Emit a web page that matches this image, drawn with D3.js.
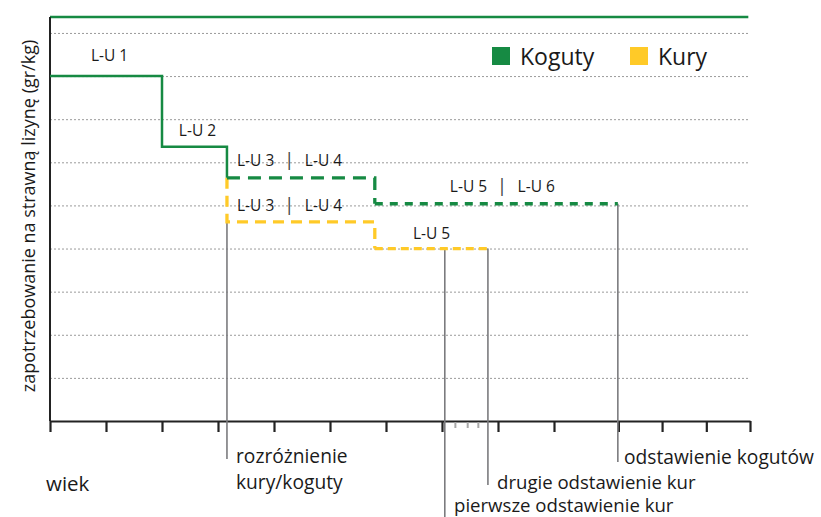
<!DOCTYPE html>
<html>
<head>
<meta charset="utf-8">
<script src="https://cdn.jsdelivr.net/npm/d3@7"></script>
<style>
  html, body { margin: 0; padding: 0; background: #fff; }
  svg { display: block; }
  text { font-family: "Open Sans", "Noto Sans", sans-serif; fill: #1a1a1a; }
</style>
</head>
<body>
<svg id="chart" width="821" height="517"></svg>
<script>
// ---- data ----
const yGridTicks = [1, 2, 3, 4, 5, 6, 7, 8, 9];
const xMajorTicks = [0, 1, 2, 3, 4, 5, 6, 7, 8, 9, 10.15, 10.93, 11.72, 12.5];
const xMinorTicks = [7.23, 7.45, 7.64];

// Koguty (green) step points [age, value]
const kogutySolid = [[0, 8], [2, 6.36], [3.16, 5.64]];
const kogutyDash1 = [[3.16, 5.64], [5.8, 5.64], [5.8, 5.04]];
const kogutyDash2 = [[5.8, 5.04], [10.14, 5.04]];
// Kury (yellow)
const kuryDash1 = [[3.16, 5.64], [3.16, 4.62], [5.8, 4.62], [5.8, 4.0]];
const kuryDash2 = [[5.8, 4.0], [7.82, 4.0]];

// Stage labels [text, age, value]
const stageLabels = [
  ["L-U 1", 0.73, 8.34],
  ["L-U 2", 2.3, 6.6],
  ["L-U 3", 3.34, 5.91],
  ["|", 4.27, 5.91],
  ["L-U 4", 4.55, 5.91],
  ["L-U 3", 3.34, 4.87],
  ["|", 4.27, 4.87],
  ["L-U 4", 4.55, 4.87],
  ["L-U 5", 7.14, 5.3],
  ["|", 8.07, 5.3],
  ["L-U 6", 8.35, 5.3],
  ["L-U 5", 6.48, 4.23]
];

// Event markers: age, value where line starts, label lines
const events = [
  { age: 3.16, value: 4.62, lines: ["rozróżnienie", "kury/koguty"] },
  { age: 7.05, value: 4.0, lines: ["pierwsze odstawienie kur"] },
  { age: 7.82, value: 4.0, lines: ["drugie odstawienie kur"] },
  { age: 10.14, value: 5.04, lines: ["odstawienie kogutów"] }
];

const legendItems = ["Koguty", "Kury"];
const colors = { Koguty: "#168a43", Kury: "#ffca28" };

// ---- layout ----
const svg = d3.select("#chart");
const x = d3.scaleLinear().domain([0, 12.5]).range([50, 750]);
const y = d3.scaleLinear().domain([0, 9.37]).range([421, 17]);

// grid
const grid = svg.append("g").attr("transform", "translate(50,0)")
  .call(d3.axisLeft(y).tickValues(yGridTicks).tickSize(-700).tickFormat(""));
grid.select(".domain").remove();
grid.selectAll(".tick line")
  .attr("stroke", "#9a9a9a").attr("stroke-width", 1).attr("stroke-dasharray", "2,2");

// top green line
svg.append("line")
  .attr("x1", x(0)).attr("x2", x(12.47)).attr("y1", y(9.37)).attr("y2", y(9.37))
  .attr("stroke", colors.Koguty).attr("stroke-width", 2.5);

// y axis line
svg.append("line")
  .attr("x1", x(0)).attr("x2", x(0)).attr("y1", y(9.37)).attr("y2", y(0))
  .attr("stroke", "#222").attr("stroke-width", 2);

// x axis
const xAxis = svg.append("g").attr("transform", `translate(0,${y(0)})`)
  .call(d3.axisBottom(x).tickValues(xMajorTicks).tickSize(11).tickSizeOuter(0).tickFormat(""));
xAxis.select(".domain").attr("stroke", "#222").attr("stroke-width", 2.2);
xAxis.selectAll(".tick line").attr("stroke", "#222").attr("stroke-width", 2.2);

const xMinor = svg.append("g").attr("transform", `translate(0,${y(0) + 1})`)
  .call(d3.axisBottom(x).tickValues(xMinorTicks).tickSize(6).tickSizeOuter(0).tickFormat(""));
xMinor.select(".domain").remove();
xMinor.selectAll(".tick line").attr("stroke", "#a8a8a8").attr("stroke-width", 2);

// event vertical lines
const eventBottoms = [459, 517, 485, 462];
events.forEach((e, i) => {
  svg.append("line")
    .attr("x1", x(e.age)).attr("x2", x(e.age))
    .attr("y1", y(e.value)).attr("y2", eventBottoms[i])
    .attr("stroke", "#7b7b7e").attr("stroke-width", 1.6);
});

// step lines
const line = d3.line().x(d => x(d[0])).y(d => y(d[1]));
const stepLine = d3.line().x(d => x(d[0])).y(d => y(d[1])).curve(d3.curveStepAfter);

svg.append("path").attr("d", line(kuryDash1)).attr("fill", "none")
  .attr("stroke", colors.Kury).attr("stroke-width", 3.3).attr("stroke-dasharray", "11,7");
svg.append("path").attr("d", line(kuryDash2)).attr("fill", "none")
  .attr("stroke", colors.Kury).attr("stroke-width", 3.3).attr("stroke-dasharray", "8,5");

svg.append("path").attr("d", stepLine(kogutySolid)).attr("fill", "none")
  .attr("stroke", colors.Koguty).attr("stroke-width", 2.5);
svg.append("path").attr("d", line(kogutyDash1)).attr("fill", "none")
  .attr("stroke", colors.Koguty).attr("stroke-width", 3.3).attr("stroke-dasharray", "13,8");
svg.append("path").attr("d", line(kogutyDash2)).attr("fill", "none")
  .attr("stroke", colors.Koguty).attr("stroke-width", 3.5).attr("stroke-dasharray", "8,7");

// stage labels
stageLabels.forEach(([t, a, v]) => {
  const isBar = t === "|";
  svg.append("text")
    .attr("x", x(a)).attr("y", y(v))
    .attr("text-anchor", isBar ? "middle" : "start")
    .attr("font-size", isBar ? 19 : 15.5)
    .style("fill", isBar ? "#444" : "#1a1a1a")
    .text(t);
});

// event labels
const eventLabelPos = [
  { x: 236, y: [463, 489], size: 19.2 },
  { x: 454, y: [512], size: 18.6 },
  { x: 497, y: [489], size: 18.6 },
  { x: 624, y: [464], size: 19.2 }
];
events.forEach((e, i) => {
  e.lines.forEach((l, j) => {
    svg.append("text")
      .attr("x", eventLabelPos[i].x).attr("y", eventLabelPos[i].y[j])
      .attr("font-size", eventLabelPos[i].size).text(l);
  });
});

// wiek
svg.append("text").attr("x", 46).attr("y", 491).attr("font-size", 20.5).text("wiek");

// y label
svg.append("text")
  .attr("transform", "translate(35,216) rotate(-90)")
  .attr("text-anchor", "middle")
  .attr("font-size", 18)
  .text("zapotrzebowanie na strawną lizynę (gr/kg)");

// legend
const legendX = [492, 630];
legendItems.forEach((k, i) => {
  svg.append("rect").attr("x", legendX[i]).attr("y", 47).attr("width", 18).attr("height", 18)
    .attr("fill", colors[k]);
  svg.append("text").attr("x", legendX[i] + 28).attr("y", 64.5).attr("font-size", 23).text(k);
});
</script>
</body>
</html>
